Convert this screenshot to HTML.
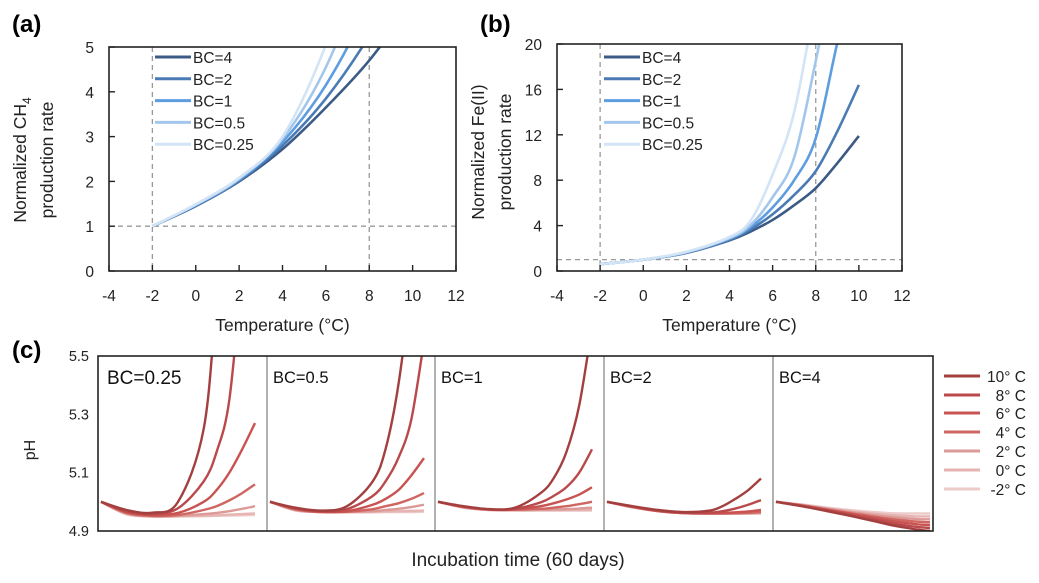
<!DOCTYPE html>
<html><head><meta charset="utf-8"><style>
html,body{margin:0;padding:0;background:#fff;}
svg{display:block;font-family:"Liberation Sans",sans-serif;}
</style></head><body>
<svg id="fig" width="1039" height="583" viewBox="0 0 1039 583" xmlns="http://www.w3.org/2000/svg">
<defs>
<clipPath id="clipA"><rect x="109" y="47" width="347" height="224"/></clipPath>
<clipPath id="clipB"><rect x="557" y="44" width="345" height="227"/></clipPath>
<clipPath id="clipC"><rect x="98" y="356" width="835" height="175"/></clipPath>
</defs>
<text x="12" y="32" font-size="24" font-weight="bold">(a)</text>
<text x="480" y="32" font-size="24" font-weight="bold">(b)</text>
<text x="12" y="358" font-size="24" font-weight="bold">(c)</text>
<g id="gA"></g>
<g id="gB"></g>
<g id="gC"></g>
</svg>
<script>
// ---------- Panel (a) data ----------
const bcLabels = ["BC=4","BC=2","BC=1","BC=0.5","BC=0.25"];
const bcColors = ["#3b5b86","#4a7bb4","#5e9de0","#a3c7ec","#d3e4f6"];
const tempsA = [-2,0,2,4,6,8,10];
const ch4_bc4   = [1,1.45,2.0,2.72,3.65,4.7,6.0];
const ch4_bc2   = [1,1.46,2.02,2.8,3.85,5.25,7.0];
const ch4_bc1   = [1,1.47,2.04,2.88,4.15,6.0,8.5];
const ch4_bc05  = [1,1.48,2.06,2.95,4.55,7.0,10];
const ch4_bc025 = [1,1.49,2.08,3.0,5.05,8.0,12];
// ---------- Panel (b) data ----------
const tempsB = [-2,0,2,4,5,6,7,8,9,10];
const fe_bc4   = [0.6,1.0,1.6,2.7,3.5,4.5,5.8,7.3,9.5,11.9];
const fe_bc2   = [0.6,1.0,1.6,2.75,3.7,5.0,6.7,8.8,12.3,16.4];
const fe_bc1   = [0.6,1.0,1.65,2.85,3.9,5.6,8.0,11.7,20.1,28];
const fe_bc05  = [0.6,1.0,1.65,2.9,4.1,6.5,10.0,18.5,28,36];
const fe_bc025 = [0.6,1.0,1.7,3.0,4.5,8.5,14.0,24,34,44];
const xTicksAB = [-4,-2,0,2,4,6,8,10,12];
const yTicksA = [0,1,2,3,4,5];
const yTicksB = [0,4,8,12,16,20];
// ---------- Panel (c) data ----------
const days = [0,10,20,30,40,45,50,55,60];
const tempLabels = ["10° C","8° C","6° C","4° C","2° C","0° C","-2° C"];
const redColors = ["#a3403f","#b9494a","#c85350","#d06662","#dc9a97","#e6b5b3","#eccbc9"];
const subLabels = ["BC=0.25","BC=0.5","BC=1","BC=2","BC=4"];
const pH_bc025 = [
 [5.0,4.972,4.963,5.0,5.25,5.7,6.2,6.8,7.4],
 [5.0,4.968,4.958,4.978,5.07,5.17,5.35,5.8,6.3],
 [5.0,4.965,4.955,4.962,5.0,5.04,5.1,5.18,5.27],
 [5.0,4.962,4.952,4.955,4.972,4.985,5.005,5.03,5.06],
 [5.0,4.96,4.95,4.952,4.958,4.962,4.968,4.976,4.985],
 [5.0,4.958,4.95,4.95,4.952,4.954,4.956,4.958,4.96],
 [5.0,4.957,4.95,4.95,4.951,4.952,4.953,4.954,4.955]];
const pH_bc05 = [
 [5.0,4.98,4.97,4.985,5.07,5.18,5.4,5.75,6.2],
 [5.0,4.978,4.968,4.975,5.02,5.07,5.15,5.28,5.55],
 [5.0,4.976,4.966,4.968,4.99,5.01,5.04,5.09,5.15],
 [5.0,4.974,4.965,4.966,4.975,4.985,4.995,5.01,5.03],
 [5.0,4.972,4.965,4.965,4.968,4.972,4.976,4.982,4.99],
 [5.0,4.971,4.965,4.965,4.966,4.967,4.968,4.969,4.97],
 [5.0,4.97,4.965,4.964,4.964,4.965,4.965,4.965,4.966]];
const pH_bc1 = [
 [5.0,4.985,4.975,4.98,5.03,5.08,5.17,5.33,5.6],
 [5.0,4.984,4.974,4.976,4.998,5.02,5.05,5.1,5.18],
 [5.0,4.983,4.974,4.974,4.985,4.995,5.008,5.025,5.05],
 [5.0,4.982,4.973,4.973,4.976,4.98,4.985,4.992,5.0],
 [5.0,4.981,4.973,4.972,4.973,4.974,4.975,4.977,4.98],
 [5.0,4.98,4.972,4.971,4.971,4.971,4.972,4.972,4.973],
 [5.0,4.98,4.972,4.97,4.97,4.97,4.97,4.97,4.97]];
const pH_bc2 = [
 [5.0,4.985,4.972,4.965,4.97,4.985,5.01,5.04,5.08],
 [5.0,4.984,4.97,4.963,4.963,4.968,4.977,4.99,5.006],
 [5.0,4.983,4.969,4.962,4.961,4.962,4.964,4.967,4.972],
 [5.0,4.982,4.968,4.961,4.96,4.96,4.961,4.962,4.965],
 [5.0,4.982,4.968,4.961,4.96,4.96,4.96,4.961,4.962],
 [5.0,4.981,4.968,4.961,4.96,4.96,4.96,4.96,4.961],
 [5.0,4.981,4.968,4.961,4.96,4.96,4.96,4.96,4.96]];
const pH_bc4 = [
 [5.0,4.985,4.968,4.95,4.93,4.92,4.912,4.905,4.90],
 [5.0,4.986,4.97,4.953,4.936,4.927,4.92,4.914,4.91],
 [5.0,4.987,4.972,4.957,4.942,4.934,4.928,4.923,4.92],
 [5.0,4.988,4.974,4.96,4.947,4.941,4.936,4.932,4.93],
 [5.0,4.989,4.976,4.964,4.953,4.948,4.944,4.941,4.94],
 [5.0,4.99,4.978,4.967,4.958,4.954,4.952,4.95,4.95],
 [5.0,4.991,4.98,4.971,4.964,4.961,4.96,4.96,4.96]];
const pHSets = [pH_bc025,pH_bc05,pH_bc1,pH_bc2,pH_bc4];
const yTicksC = [4.9,5.1,5.3,5.5];

const NS="http://www.w3.org/2000/svg";
function mk(tag, attrs, parent){const e=document.createElementNS(NS,tag);for(const k in attrs)e.setAttribute(k,attrs[k]);parent.appendChild(e);return e;}
function smooth(pts){
  let d="M"+pts[0][0].toFixed(2)+","+pts[0][1].toFixed(2);
  for(let i=0;i<pts.length-1;i++){
    const p0=pts[i-1]||pts[i],p1=pts[i],p2=pts[i+1],p3=pts[i+2]||pts[i+1];
    const c1=[p1[0]+(p2[0]-p0[0])/6,p1[1]+(p2[1]-p0[1])/6];
    const c2=[p2[0]-(p3[0]-p1[0])/6,p2[1]-(p3[1]-p1[1])/6];
    d+=" C"+c1[0].toFixed(2)+","+c1[1].toFixed(2)+" "+c2[0].toFixed(2)+","+c2[1].toFixed(2)+" "+p2[0].toFixed(2)+","+p2[1].toFixed(2);
  }
  return d;
}
function tempPanel(g, L,R,T,B, ymax, yTicks, series, temps, clipId, titleLines, legX, legY){
  const xs=v=>L+(v+4)/16*(R-L), ys=v=>B-v/ymax*(B-T);
  let e;
  e=mk("line",{x1:xs(-2),x2:xs(-2),y1:T,y2:B,stroke:"#999","stroke-width":1.3,"stroke-dasharray":"5,4"},g);
  
  
  e=mk("line",{x1:xs(8),x2:xs(8),y1:T,y2:B,stroke:"#999","stroke-width":1.3,"stroke-dasharray":"5,4"},g);
  
  
  e=mk("line",{x1:L,x2:R,y1:ys(1),y2:ys(1),stroke:"#999","stroke-width":1.3,"stroke-dasharray":"5,4"},g);
  
  
  for(let s=0;s<series.length;s++){
    const pts=series[s].map((v,i)=>[xs(temps[i]),ys(v)]);
    e=mk("path",{d:smooth(pts),fill:"none",stroke:bcColors[s],"stroke-width":2.6,"clip-path":"url(#"+clipId+")"},g);
    
    
  }
  e=mk("rect",{x:L,y:T,width:R-L,height:B-T,fill:"none",stroke:"#222","stroke-width":1.6},g);
  
  
  xTicksAB.forEach(v=>{
    const t=mk("line",{x1:xs(v),x2:xs(v),y1:B,y2:B-6,stroke:"#222","stroke-width":1.4},g);
    
    
    const tx=mk("text",{x:xs(v),y:B+30,"font-size":15.5,"text-anchor":"middle",fill:"#222"},g);
    tx.textContent=v;
    
    
  });
  yTicks.forEach(v=>{
    const t=mk("line",{x1:L,x2:L+6,y1:ys(v),y2:ys(v),stroke:"#222","stroke-width":1.4},g);
    
    
    const tx=mk("text",{x:L-15,y:ys(v)+6,"font-size":15.5,"text-anchor":"end",fill:"#222"},g);
    tx.textContent=v;
    
    
  });
  const xt=mk("text",{x:(L+R)/2,y:331,"font-size":17.5,"text-anchor":"middle",fill:"#222"},g);
  xt.textContent="Temperature (°C)";
  
  
  titleLines.forEach(tl=>{
    const t=mk("text",{x:0,y:0,"font-size":17.5,"text-anchor":"middle",fill:"#222",transform:"translate("+tl.x+","+tl.y+") rotate(-90)"},g);
    t.innerHTML=tl.html;
    
    
  });
  bcLabels.forEach((lab,i)=>{
    const y=legY+i*21.8;
    const l=mk("line",{x1:legX,x2:legX+36,y1:y,y2:y,stroke:bcColors[i],"stroke-width":3},g);
    
    
    const t=mk("text",{x:legX+38,y:y+6,"font-size":15.5,fill:"#222"},g);
    t.textContent=lab;
    
    
  });
}
tempPanel(document.getElementById("gA"),109,456,47,271,5,yTicksA,[ch4_bc4,ch4_bc2,ch4_bc1,ch4_bc05,ch4_bc025],tempsA,"clipA",
  [{x:26,y:160,html:'Normalized CH<tspan font-size="12" dy="5">4</tspan>'},{x:53,y:160,html:'production rate'}],155,57);
tempPanel(document.getElementById("gB"),557,902,44,271,20,yTicksB,[fe_bc4,fe_bc2,fe_bc1,fe_bc05,fe_bc025],tempsB,"clipB",
  [{x:484,y:152,html:'Normalized Fe(II)'},{x:511,y:152,html:'production rate'}],604,57);

(function(){
  const g=document.getElementById("gC");
  const L=98,R=933,T=356,B=531;
  const divs=[98,267,435,604,773,933];
  const ys=v=>B-(v-4.9)/0.6*(B-T);
  let e;
  for(let p=0;p<5;p++){
    const x0=divs[p]+3, x1=divs[p]+157;
    const xs=d=>x0+d/60*(x1-x0);
    const set=pHSets[p];
    for(let s=set.length-1;s>=0;s--){
      const pts=set[s].map((v,i)=>[xs(days[i]),ys(v)]);
      e=mk("path",{d:smooth(pts),fill:"none",stroke:redColors[s],"stroke-width":2.4,"clip-path":"url(#clipC)"},g);
      
      
    }
    const t=mk("text",{x:divs[p]+(p==0?9:6),y:p==0?384:383,"font-size":p==0?19:16.5,fill:"#111"},g);
    t.textContent=subLabels[p];
    
    
    if(p>0){
      e=mk("line",{x1:divs[p],x2:divs[p],y1:T,y2:B,stroke:"#999","stroke-width":1.5},g);
      
      
    }
  }
  e=mk("rect",{x:L,y:T,width:R-L,height:B-T,fill:"none",stroke:"#222","stroke-width":1.6},g);
  
  
  yTicksC.forEach(v=>{
    const tx=mk("text",{x:89,y:ys(v)+5,"font-size":14.5,"text-anchor":"end",fill:"#222"},g);
    tx.textContent=v.toFixed(1);
    
    
  });
  const yt=mk("text",{x:0,y:0,"font-size":16,"text-anchor":"middle",fill:"#222",transform:"translate(35,450) rotate(-90)"},g);
  yt.textContent="pH";
  
  
  const xt=mk("text",{x:518,y:566,"font-size":19,"text-anchor":"middle",fill:"#222"},g);
  xt.textContent="Incubation time (60 days)";
  
  
  tempLabels.forEach((lab,i)=>{
    const y=[376,395,413,432,451,470,489][i];
    const l=mk("line",{x1:944,x2:980,y1:y,y2:y,stroke:redColors[i],"stroke-width":3},g);
    
    
    const t=mk("text",{x:1026,y:y+6,"font-size":15.5,"text-anchor":"end",fill:"#222"},g);
    t.textContent=lab;
    
    
  });
})();
</script>
</body></html>
